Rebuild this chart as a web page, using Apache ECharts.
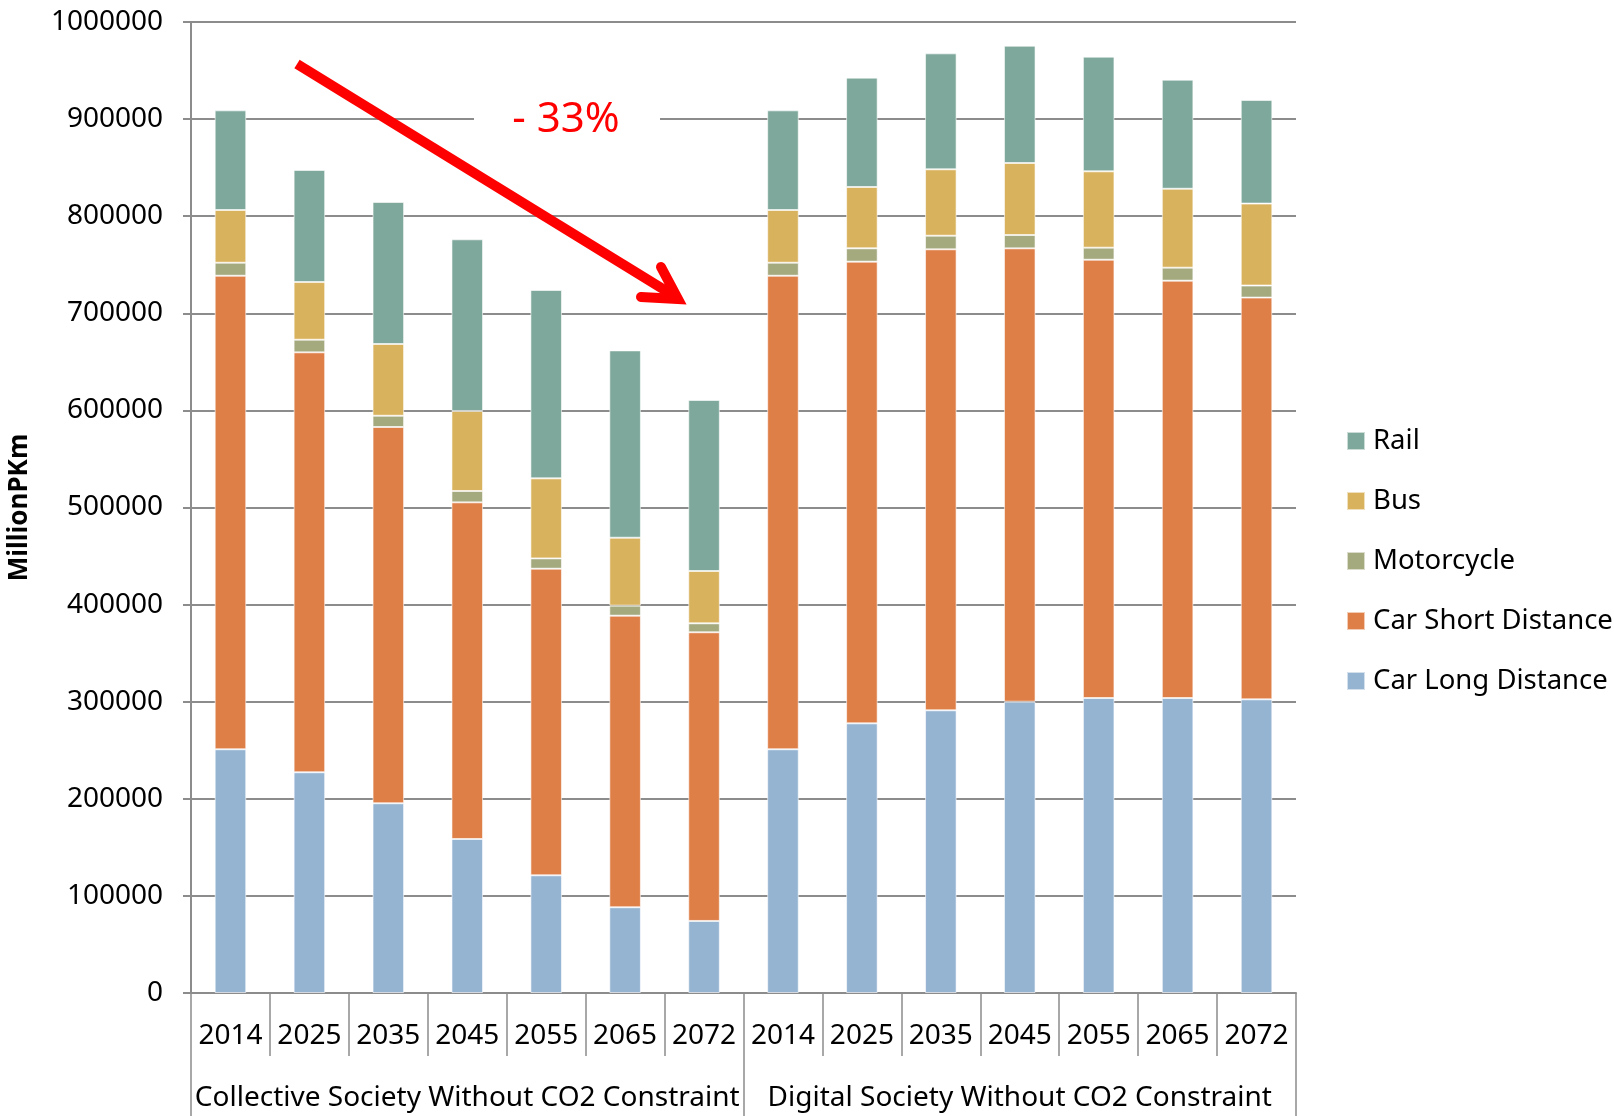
<!DOCTYPE html>
<html>
<head>
<meta charset="utf-8">
<script src="https://cdn.jsdelivr.net/npm/echarts@6/dist/echarts.min.js"></script>
<style>
	html, body {
		margin: 0;
		padding: 0;
		background: #ffffff;
	}
	#main {
		width: 1614px;
		height: 1116px;
	}
</style>
</head>
<body>
<div id="main"></div>
<script>
// category labels
var years = ['2014', '2025', '2035', '2045', '2055', '2065', '2072',
	'2014', '2025', '2035', '2045', '2055', '2065', '2072'];
var scenarios = ['Collective Society Without CO2 Constraint', 'Digital Society Without CO2 Constraint'];
var yTicks = [0, 1000000, 100000];

// values in MillionPKm
var carLong = [251000, 227300, 195400, 158600, 121200, 88300, 74200,
	251000, 277700, 291100, 300000, 303800, 303800, 302400];
var carShort = [487700, 432500, 387500, 346700, 315800, 300300, 297300,
	487700, 475500, 474800, 466900, 451400, 429800, 413800];
var motorcycle = [13400, 13000, 11600, 11700, 10600, 10300, 9200,
	13400, 13700, 14000, 13700, 12400, 13400, 12400];
var bus = [54300, 59400, 73900, 82400, 82400, 70000, 53900,
	54300, 63200, 68400, 74200, 78600, 81300, 84400];
var rail = [102600, 115400, 146200, 176800, 194000, 192900, 176100,
	102600, 112600, 119400, 120800, 118100, 112300, 106700];

var font = '"Noto Sans", "Open Sans", sans-serif';
var gray = '#8c8c8c';

function barSeries(name, data, color) {
	return {
		name: name,
		type: 'bar',
		stack: 'total',
		barWidth: '40%',
		data: data,
		itemStyle: {
			color: color,
			borderColor: 'rgba(255,255,255,0.6)',
			borderWidth: 1
		}
	};
}

var chart = echarts.init(document.getElementById('main'), null, {
	renderer: 'canvas'
});

var option = {
	animation: false,
	textStyle: {
		fontFamily: font,
		color: '#000'
	},
	grid: {
		left: 191,
		right: 318,
		top: 22,
		bottom: 123,
		containLabel: false,
		outerBoundsMode: 'none'
	},
	legend: {
		orient: 'vertical',
		left: 1341,
		top: 422,
		itemWidth: 18,
		itemHeight: 18,
		itemGap: 32,
		icon: 'rect',
		data: ['Rail', 'Bus', 'Motorcycle', 'Car Short Distance', 'Car Long Distance'],
		textStyle: {
			fontSize: 27.5,
			color: '#000',
			padding: [0, 0, 0, 3]
		}
	},
	xAxis: [{
		type: 'category',
		data: years,
		position: 'bottom',
		axisLine: {
			lineStyle: {
				color: gray,
				width: 2
			}
		},
		axisTick: {
			show: true,
			interval: 0,
			length: 63,
			lineStyle: {
				color: gray,
				width: 1.5
			}
		},
		axisLabel: {
			interval: 0,
			fontSize: 28,
			lineHeight: 28,
			margin: 29,
			color: '#000'
		}
	}, {
		type: 'category',
		data: scenarios,
		position: 'bottom',
		axisLine: {
			show: false
		},
		axisTick: {
			show: true,
			interval: 0,
			length: 123,
			lineStyle: {
				color: gray,
				width: 1.5
			}
		},
		axisLabel: {
			interval: 0,
			fontSize: 28,
			lineHeight: 28,
			margin: 91,
			color: '#000'
		}
	}],
	yAxis: {
		type: 'value',
		min: yTicks[0],
		max: yTicks[1],
		interval: yTicks[2],
		name: 'MillionPKm',
		nameLocation: 'middle',
		nameGap: 158,
		nameTextStyle: {
			fontSize: 26,
			fontWeight: 'bold',
			color: '#000'
		},
		axisLine: {
			show: true,
			lineStyle: {
				color: gray,
				width: 2
			}
		},
		axisTick: {
			show: true,
			length: 8,
			lineStyle: {
				color: gray,
				width: 2
			}
		},
		axisLabel: {
			fontSize: 28,
			margin: 28,
			color: '#000',
			formatter: function(v) {
				return String(v);
			}
		},
		splitLine: {
			lineStyle: {
				color: gray,
				width: 2
			}
		}
	},
	series: [
		barSeries('Car Long Distance', carLong, '#95b4d2'),
		barSeries('Car Short Distance', carShort, '#de7f48'),
		barSeries('Motorcycle', motorcycle, '#a5a97e'),
		barSeries('Bus', bus, '#d9b25e'),
		barSeries('Rail', rail, '#7ea89b')
	],
	// the red "-33%" arrow annotation
	graphic: [{
		type: 'rect',
		z: 100,
		shape: {
			x: 474,
			y: 114,
			width: 186,
			height: 10
		},
		style: {
			fill: '#ffffff'
		}
	}, {
		type: 'text',
		z: 101,
		x: 566,
		y: 120,
		style: {
			text: '- 33%',
			fill: '#ff0000',
			font: '42px "Noto Sans", sans-serif',
			align: 'center',
			verticalAlign: 'middle'
		}
	}, {
		type: 'line',
		z: 101,
		shape: {
			x1: 297,
			y1: 64,
			x2: 676,
			y2: 297
		},
		style: {
			stroke: '#ff0000',
			lineWidth: 10,
			lineCap: 'butt'
		}
	}, {
		type: 'polyline',
		z: 101,
		shape: {
			points: [[641, 297], [678, 299], [661, 267]]
		},
		style: {
			stroke: '#ff0000',
			fill: null,
			lineWidth: 10,
			lineCap: 'round',
			lineJoin: 'miter'
		}
	}]
};

chart.setOption(option);
</script>
</body>
</html>
